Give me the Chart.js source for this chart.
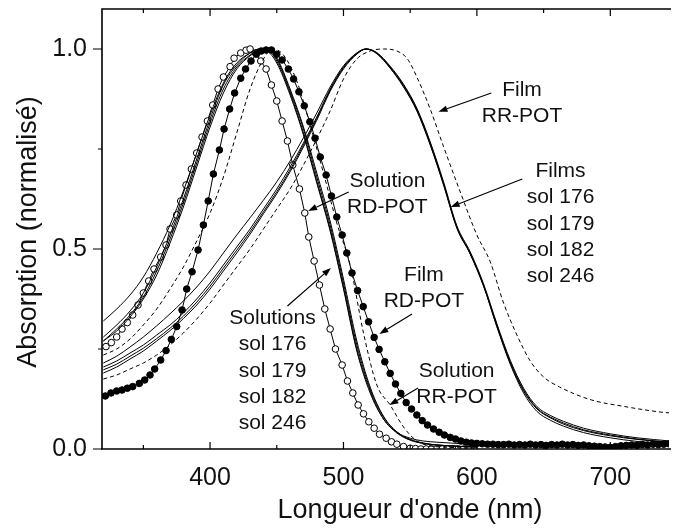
<!DOCTYPE html>
<html><head><meta charset="utf-8">
<script src="https://cdn.jsdelivr.net/npm/chart.js@4.4.1/dist/chart.umd.min.js"></script>
<style>html,body{margin:0;padding:0;background:#fff}#wrap{width:674px;height:530px}</style>
</head><body><div id="wrap"><canvas id="c" width="674" height="530"></canvas></div>
<script>
// ---- data (wavelength in nm, normalized absorption) ----
const xTicks = [400, 500, 600, 700];
const yTicks = [0, 0.5, 1.0];

// Solutions sol 176/179/182/246 (solid)
const solWl  = [320,330,340,350,360,370,380,390,400,410,420,430,437,443,450,460,470,480,490,500,510,520,530,540,550,560,570,580,590,600];
const sol176 = [0.32,0.35,0.385,0.43,0.49,0.56,0.645,0.74,0.835,0.915,0.965,0.99,1.0,0.995,0.965,0.885,0.785,0.665,0.545,0.40,0.245,0.14,0.075,0.042,0.027,0.02,0.017,0.015,0.013,0.012];
const sol179 = [0.28,0.31,0.345,0.39,0.455,0.535,0.625,0.725,0.825,0.91,0.96,0.99,1.0,0.998,0.97,0.89,0.79,0.67,0.55,0.405,0.25,0.145,0.075,0.04,0.022,0.014,0.01,0.008,0.006,0.005];
const sol182 = [0.27,0.30,0.335,0.38,0.445,0.525,0.615,0.715,0.815,0.90,0.955,0.985,0.998,1.0,0.975,0.895,0.80,0.68,0.56,0.415,0.26,0.15,0.08,0.042,0.023,0.014,0.01,0.008,0.006,0.005];
const sol246 = [0.27,0.295,0.33,0.375,0.435,0.515,0.605,0.705,0.805,0.89,0.95,0.983,0.997,1.0,0.978,0.90,0.805,0.69,0.57,0.425,0.27,0.155,0.082,0.043,0.024,0.015,0.01,0.008,0.006,0.005];

// Solution RR-POT (dashed)
const rrSolWl = [320,330,340,350,360,370,380,390,400,410,420,430,440,447,455,465,475,485,495,505,515,525,535,545,555,565,580,600];
const rrSol   = [0.235,0.25,0.275,0.31,0.35,0.40,0.455,0.52,0.59,0.68,0.79,0.9,0.975,1.0,0.985,0.92,0.81,0.69,0.565,0.46,0.29,0.16,0.11,0.055,0.02,0.008,0.004,0.002];

// Films sol 176/179/182/246 (solid)
const filmWl  = [320,330,340,350,360,370,380,390,400,410,420,430,440,450,460,470,480,490,500,510,517,525,535,545,555,565,575,585,595,605,615,625,635,645,655,665,680,700,720,745];
const film176 = [0.215,0.232,0.255,0.28,0.308,0.338,0.37,0.405,0.445,0.49,0.535,0.578,0.622,0.668,0.72,0.778,0.84,0.905,0.958,0.99,1.0,0.99,0.955,0.91,0.85,0.765,0.665,0.555,0.49,0.41,0.31,0.218,0.148,0.102,0.08,0.065,0.048,0.035,0.025,0.017];
const film179 = [0.205,0.22,0.24,0.26,0.285,0.31,0.34,0.375,0.415,0.46,0.505,0.55,0.60,0.65,0.705,0.765,0.83,0.90,0.955,0.99,1.0,0.988,0.952,0.905,0.845,0.76,0.66,0.552,0.487,0.407,0.307,0.215,0.145,0.1,0.078,0.062,0.046,0.033,0.024,0.016];
const film182 = [0.198,0.212,0.232,0.252,0.276,0.302,0.332,0.367,0.407,0.452,0.497,0.543,0.593,0.643,0.698,0.76,0.826,0.897,0.953,0.988,1.0,0.991,0.957,0.912,0.852,0.768,0.668,0.558,0.493,0.413,0.313,0.222,0.152,0.106,0.084,0.069,0.052,0.038,0.028,0.02];
const film246 = [0.19,0.205,0.225,0.245,0.27,0.296,0.326,0.36,0.40,0.445,0.49,0.537,0.588,0.638,0.693,0.755,0.822,0.894,0.95,0.987,1.0,0.989,0.953,0.907,0.847,0.762,0.662,0.553,0.488,0.408,0.305,0.212,0.14,0.094,0.072,0.057,0.041,0.028,0.019,0.012];

// Film RR-POT (dashed)
const rrFilmWl = [320,330,340,350,360,370,380,390,400,410,420,430,440,450,460,470,480,490,500,510,520,530,540,548,555,565,575,587,600,610,620,630,640,650,662,686,711,736,745];
const rrFilm   = [0.175,0.185,0.2,0.215,0.235,0.26,0.29,0.325,0.365,0.41,0.455,0.5,0.55,0.6,0.65,0.71,0.775,0.845,0.925,0.975,0.995,1.0,0.995,0.975,0.93,0.85,0.756,0.6475,0.535,0.468,0.365,0.285,0.22,0.18,0.155,0.1225,0.106,0.093,0.09];

// Solution RD-POT (open circles)
const rdSolWl = [322,326,330,334,338,342,346,350,354,358,363,367,370,375,378,382,386,390,394,398,402,406,410,415,418,423,427,430,434,438,442,446,450,454,458,462,467,471,474,478,482,486,490,494,499,503,507,511,515,519,523,527,532,536,540,545,550,554,558,562,566,570,574,578,582,586,590,594,598];
const rdSol   = [0.256,0.266,0.28,0.30,0.316,0.335,0.36,0.39,0.42,0.45,0.48,0.51,0.55,0.585,0.62,0.66,0.70,0.74,0.78,0.82,0.86,0.90,0.93,0.956,0.977,0.99,0.997,1.0,0.99,0.97,0.95,0.91,0.87,0.82,0.77,0.71,0.65,0.59,0.53,0.47,0.41,0.35,0.30,0.25,0.21,0.17,0.14,0.11,0.088,0.068,0.052,0.037,0.027,0.018,0.012,0.006,0.002,0.001,0,0,0,0,0,0,0,0,0,0,0];

// Film RD-POT (filled circles)
const rdFilmWl = [321.5,325.7,330,334,338,342,347,351,355,358.5,363,367,371,375,379,382.5,386.5,391,395,398.6,402.5,407,410.5,414.7,418.4,423,426.6,430.7,434.7,438.4,442,446,450,454,458.7,462.6,466.6,470.6,474.8,478.7,482.6,487,491,495,499,502.5,506.4,510.6,514.8,518.8,523,526.7,531,535,539,543,547,551,555,559,563,567.5,571.7,575.6,580,584,588,592,596,600,604,608,612,616,620,624,628,632,636,640,644,648,652,656,660,664,668,672,676,680,684,688,692,696,700,704,708,712,716,720,724,728,732,736,740,744];
const rdFilm   = [0.1325,0.14,0.145,0.1475,0.152,0.156,0.164,0.1725,0.185,0.20,0.2225,0.246,0.274,0.306,0.3475,0.40,0.443,0.4975,0.56,0.62,0.6875,0.7475,0.80,0.85,0.89,0.927,0.95,0.97,0.987,0.995,0.9975,0.9975,0.987,0.9725,0.95,0.925,0.893,0.858,0.818,0.777,0.73,0.685,0.6325,0.58,0.535,0.49,0.44,0.396,0.356,0.318,0.279,0.249,0.218,0.189,0.1625,0.139,0.116,0.10,0.085,0.071,0.06,0.05,0.042,0.035,0.029,0.025,0.02,0.017,0.015,0.014,0.013,0.012,0.012,0.011,0.011,0.012,0.01,0.011,0.01,0.012,0.01,0.011,0.009,0.011,0.01,0.012,0.01,0.011,0.009,0.01,0.008,0.007,0.006,0.005,0.004,0.006,0.008,0.009,0.01,0.009,0.011,0.01,0.012,0.011,0.012,0.013];

// annotations (data coordinates)
const labelText = [["Film","RR-POT"],["Films","sol 176","sol 179","sol 182","sol 246"],["Solution","RD-POT"],["Solutions","sol 176","sol 179","sol 182","sol 246"],["Film","RD-POT"],["Solution","RR-POT"]];
const labelX = [633.8, 662.7, 532.9, 446.8, 560.3, 584.8];
const labelY = [0.8975, 0.695, 0.67, 0.3275, 0.435, 0.195];
const arrowFrom = [[610.8,0.89],[634,0.675],[503.9,0.6425],[458,0.3575],[551.4,0.3375],[555.9,0.1525]];
const arrowTo   = [[571.2,0.843],[580.3,0.605],[473.5,0.595],[490.6,0.4525],[526.9,0.2875],[534.4,0.11]];

// ---- build ----
const pair = (xs, ys) => xs.map((x, i) => ({x: x, y: ys[i]}));
const FONT = '"Liberation Sans", Arial, sans-serif';
const lineDs = (d, dash) => ({data: d, borderColor: '#000', borderWidth: 1, borderDash: dash || [], pointRadius: 0, cubicInterpolationMode: 'monotone', fill: false});
const circDs = (d, fillCol) => ({data: d, borderColor: '#000', borderWidth: 1, pointRadius: 3.3, pointBorderWidth: 1, pointBorderColor: '#000', pointBackgroundColor: fillCol, tension: 0, fill: false});

const decor = {
  id: 'decor',
  afterDatasetsDraw(chart) {
    const ctx = chart.ctx, a = chart.chartArea, xs = chart.scales.x, ys = chart.scales.y;
    ctx.save();
    ctx.strokeStyle = '#000';
    ctx.lineWidth = 1.6;
    ctx.beginPath();
    ctx.moveTo(a.left, a.bottom); ctx.lineTo(a.left, a.top); ctx.lineTo(a.right + 2, a.top);
    ctx.moveTo(a.left - 1, a.bottom); ctx.lineTo(a.right + 2, a.bottom);
    ctx.stroke();
    ctx.lineWidth = 1.2;
    ctx.beginPath();
    for (let v = 350; v <= 750; v += 50) {
      const px = xs.getPixelForValue(v);
      if (px > a.right) continue;
      const len = (v % 100 === 0) ? 7 : 4;
      ctx.moveTo(px, a.bottom); ctx.lineTo(px, a.bottom - len);
      ctx.moveTo(px, a.top); ctx.lineTo(px, a.top + len);
    }
    for (let v = 0; v <= 1.0001; v += 0.25) {
      const py = ys.getPixelForValue(v);
      const len = (Math.abs(v * 2 - Math.round(v * 2)) < 1e-6) ? 9 : 4;
      ctx.moveTo(a.left, py); ctx.lineTo(a.left - len, py);
    }
    ctx.stroke();

    // annotations
    ctx.fillStyle = '#111';
    ctx.font = '21px ' + FONT;
    ctx.textAlign = 'center';
    ctx.textBaseline = 'middle';
    labelText.forEach((lines, i) => {
      const cx = xs.getPixelForValue(labelX[i]);
      const cy = ys.getPixelForValue(labelY[i]);
      lines.forEach((t, j) => ctx.fillText(t, cx, cy + j * 26.4));
    });
    ctx.lineWidth = 1.2;
    ctx.strokeStyle = '#000';
    ctx.fillStyle = '#000';
    arrowFrom.forEach((f, i) => {
      const x1 = xs.getPixelForValue(f[0]), y1 = ys.getPixelForValue(f[1]);
      const x2 = xs.getPixelForValue(arrowTo[i][0]), y2 = ys.getPixelForValue(arrowTo[i][1]);
      const ang = Math.atan2(y2 - y1, x2 - x1);
      const hl = 9, hw = 3.2;
      const bx = x2 - hl * Math.cos(ang), by = y2 - hl * Math.sin(ang);
      ctx.beginPath(); ctx.moveTo(x1, y1); ctx.lineTo(bx, by); ctx.stroke();
      ctx.beginPath();
      ctx.moveTo(x2, y2);
      ctx.lineTo(bx + hw * Math.sin(ang), by - hw * Math.cos(ang));
      ctx.lineTo(bx - hw * Math.sin(ang), by + hw * Math.cos(ang));
      ctx.closePath(); ctx.fill();
    });

    // axis titles
    ctx.fillStyle = '#111';
    ctx.font = '27px ' + FONT;
    ctx.textAlign = 'center';
    ctx.textBaseline = 'middle';
    ctx.fillText("Longueur d'onde (nm)", 410, 511);
    ctx.translate(29, 232);
    ctx.rotate(-Math.PI / 2);
    ctx.fillText('Absorption (normalisé)', 0, 0);
    ctx.restore();
  }
};

new Chart(document.getElementById('c'), {
  type: 'line',
  data: {
    datasets: [
      lineDs(pair(solWl, sol176)), lineDs(pair(solWl, sol179)), lineDs(pair(solWl, sol182)), lineDs(pair(solWl, sol246)),
      lineDs(pair(rrSolWl, rrSol), [4, 3]),
      lineDs(pair(filmWl, film176)), lineDs(pair(filmWl, film179)), lineDs(pair(filmWl, film182)), lineDs(pair(filmWl, film246)),
      lineDs(pair(rrFilmWl, rrFilm), [4, 3]),
      circDs(pair(rdFilmWl, rdFilm), '#000'),
      circDs(pair(rdSolWl, rdSol), '#fff')
    ]
  },
  options: {
    responsive: false,
    animation: false,
    devicePixelRatio: 1,
    layout: {padding: {left: 0, right: 0, top: 9, bottom: 0}},
    plugins: {legend: {display: false}, tooltip: {enabled: false}},
    scales: {
      x: {
        type: 'linear', min: 319, max: 744,
        grid: {display: false, drawTicks: false}, border: {display: false},
        afterBuildTicks: s => { s.ticks = xTicks.map(v => ({value: v})); },
        afterFit: s => { s.height = 81; s.paddingLeft = 0; s.paddingRight = 0; },
        ticks: {color: '#111', font: {family: FONT, size: 25}, padding: 14, maxRotation: 0, autoSkip: false}
      },
      y: {
        type: 'linear', min: 0, max: 1.1,
        grid: {display: false, drawTicks: false}, border: {display: false},
        afterBuildTicks: s => { s.ticks = yTicks.map(v => ({value: v})); },
        afterFit: s => { s.width = 102; s.paddingTop = 0; s.paddingBottom = 0; },
        ticks: {color: '#111', font: {family: FONT, size: 25}, padding: 15, callback: v => Number(v).toFixed(1)}
      }
    }
  },
  plugins: [decor]
});
</script></body></html>
